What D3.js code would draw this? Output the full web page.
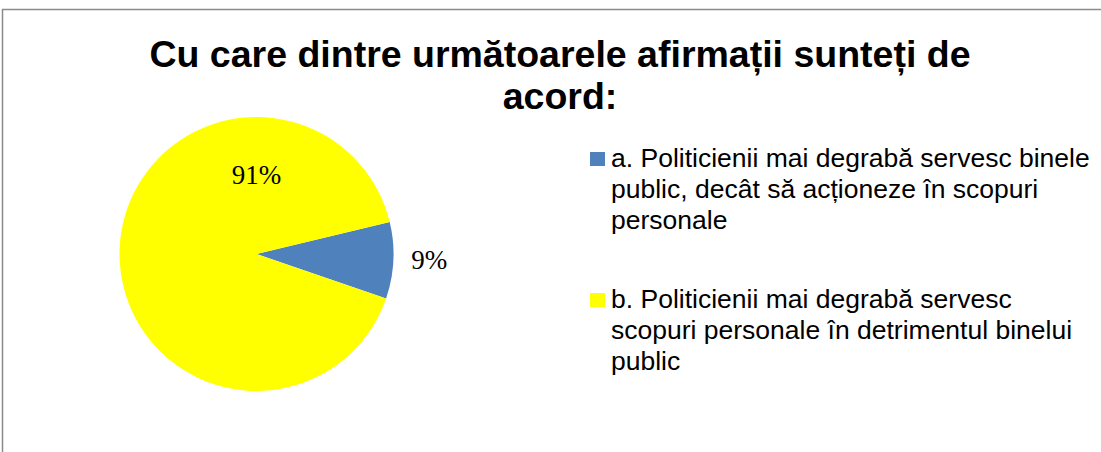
<!DOCTYPE html>
<html>
<head>
<meta charset="utf-8">
<script src="https://cdn.jsdelivr.net/npm/d3@7"></script>
<style>
    body { margin: 0; background: #fff; }
    svg { display: block; }
</style>
</head>
<body>
<div id="chart"></div>
<script>
// data
const categories = [
    "a. Politicienii mai degrabă servesc binele public, decât să acționeze în scopuri personale",
    "b. Politicienii mai degrabă servesc scopuri personale în detrimentul binelui public"
];
const values = [9, 91];
const valueLabels = ["9%", "91%"];
const legendLines = [
    ["a. Politicienii mai degrabă servesc binele", "public, decât să acționeze în scopuri", "personale"],
    ["b. Politicienii mai degrabă servesc", "scopuri personale în detrimentul binelui", "public"]
];
const titleLines = ["Cu care dintre următoarele afirmații sunteți de", "acord:"];
const colors = ["#4F81BD", "#FFFF00"];

const width = 1101, height = 452;
const cx = 256.5, cy = 254, radius = 137;
const startDeg = 76.5;

const svg = d3.select("#chart").append("svg")
    .attr("width", width)
    .attr("height", height);

// chart frame (only top and left edges fall inside the picture)
svg.append("rect")
    .attr("x", 2.5)
    .attr("y", 9.5)
    .attr("width", 1300)
    .attr("height", 800)
    .attr("fill", "none")
    .attr("stroke", "#8a8a8a")
    .attr("stroke-width", 1.5);

// title
svg.append("text")
    .attr("text-anchor", "middle")
    .attr("font-family", "'Liberation Sans', Arial, sans-serif")
    .attr("font-weight", "bold")
    .attr("font-size", 37.5)
    .selectAll("tspan")
    .data(titleLines)
    .enter().append("tspan")
    .attr("x", 560)
    .attr("y", (d, i) => 67 + i * 42)
    .text(d => d);

// pie
const pie = d3.pie()
    .sort(null)
    .value(d => d)
    .startAngle(startDeg * Math.PI / 180)
    .endAngle(startDeg * Math.PI / 180 + 2 * Math.PI);
const arcs = pie(values);
const arc = d3.arc().innerRadius(0).outerRadius(radius);

const g = svg.append("g")
    .attr("transform", "translate(" + cx + "," + cy + ")");

g.selectAll("path")
    .data(arcs)
    .enter().append("path")
    .attr("d", arc)
    .attr("fill", (d, i) => colors[i]);

// data labels: small slice outside, big slice placed at the top like Excel's best fit
const labelPos = [
    {angle: null, r: radius + 36},
    {angle: 0, r: 80}
];
g.selectAll(".lbl")
    .data(arcs)
    .enter().append("text")
    .attr("class", "lbl")
    .attr("text-anchor", "middle")
    .attr("font-family", "'Liberation Serif', 'Times New Roman', serif")
    .attr("font-size", 27)
    .attr("x", (d, i) => {
        const a = labelPos[i].angle === null ? (d.startAngle + d.endAngle) / 2 : labelPos[i].angle;
        return Math.sin(a) * labelPos[i].r;
    })
    .attr("y", (d, i) => {
        const a = labelPos[i].angle === null ? (d.startAngle + d.endAngle) / 2 : labelPos[i].angle;
        return -Math.cos(a) * labelPos[i].r + (labelPos[i].angle === null ? 6.5 : 9.5);
    })
    .text((d, i) => valueLabels[i]);

// legend
const legend = svg.append("g");
const lineH = 31;
const itemY = [167, 308];
const items = legend.selectAll(".item")
    .data(categories)
    .enter().append("g")
    .attr("class", "item")
    .attr("transform", (d, i) => "translate(590," + itemY[i] + ")");

items.append("rect")
    .attr("x", 0)
    .attr("y", -15)
    .attr("width", 15)
    .attr("height", 14)
    .attr("fill", (d, i) => colors[i]);

items.append("text")
    .attr("font-family", "'Liberation Sans', Arial, sans-serif")
    .attr("font-size", 26.5)
    .attr("fill", "#000")
    .selectAll("tspan")
    .data((d, i) => legendLines[i])
    .enter().append("tspan")
    .attr("x", 21)
    .attr("y", (d, j) => j * lineH)
    .text(d => d);
</script>
</body>
</html>
